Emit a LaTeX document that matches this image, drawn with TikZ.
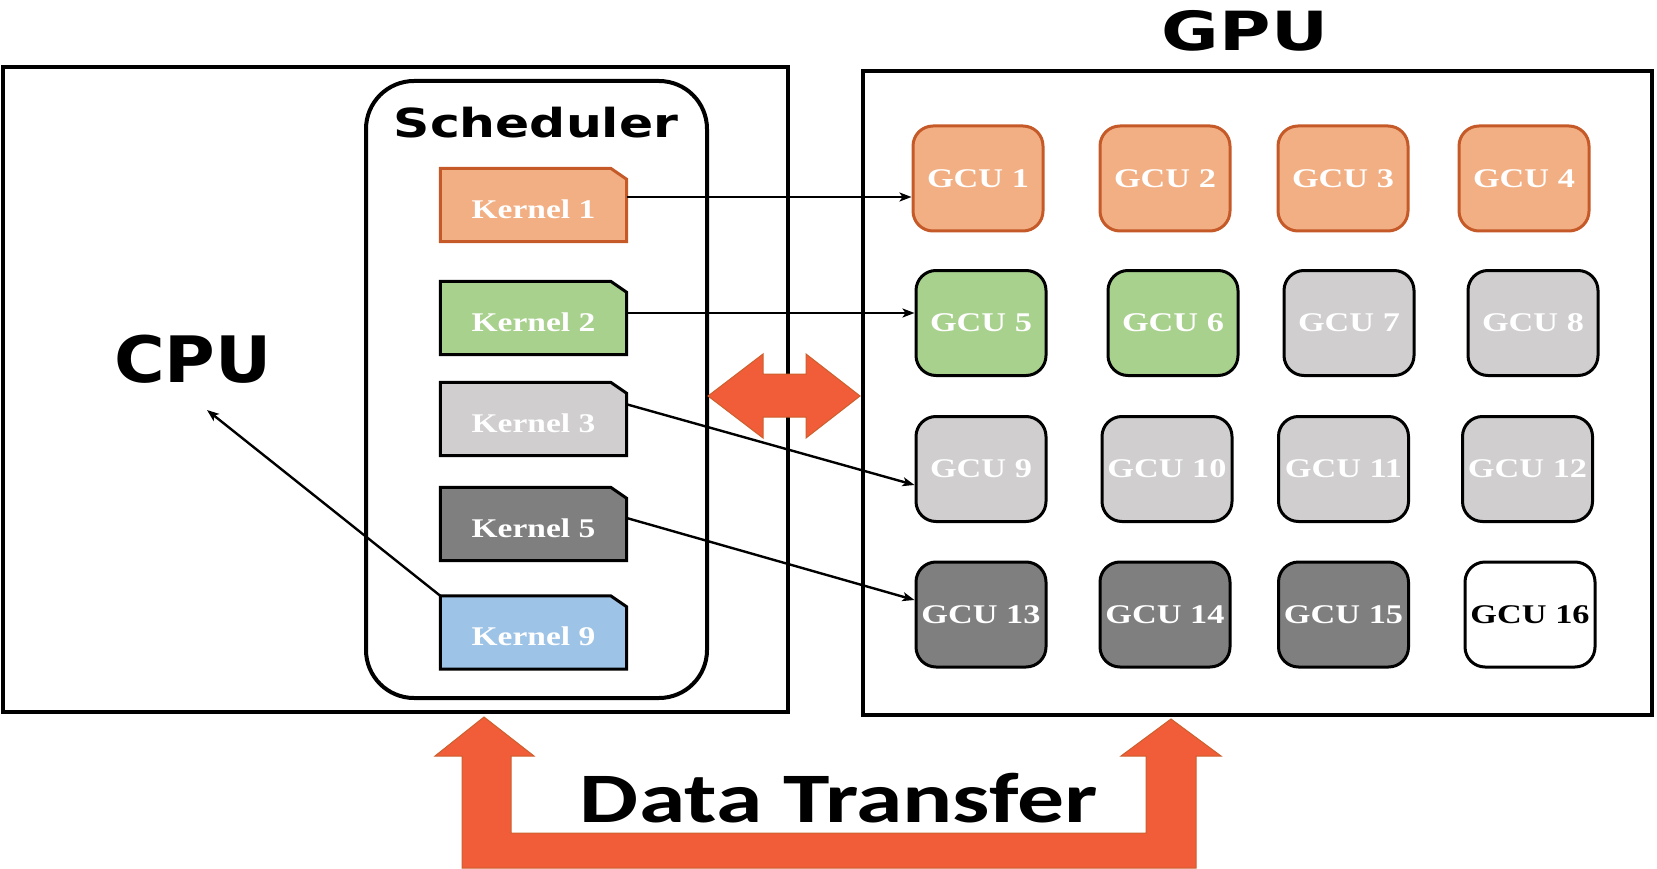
\documentclass[tikz,border=0pt]{standalone}
\usepackage{fontspec}
\usetikzlibrary{arrows.meta,calc}
\newfontfamily\dejavu{DejaVu Sans}
\newfontfamily\carlito{Carlito}
\newfontfamily\libser{Liberation Serif}
\definecolor{korange}{RGB}{242,175,132}
\definecolor{kborder}{RGB}{197,90,40}
\definecolor{kgreen}{RGB}{169,209,142}
\definecolor{klight}{RGB}{208,206,206}
\definecolor{kdark}{RGB}{127,127,127}
\definecolor{kblue}{RGB}{157,195,230}
\definecolor{bigarrow}{RGB}{240,93,56}
\definecolor{bigarrowedge}{RGB}{205,95,45}
\newcommand\kernelshape[6]{%
  \path node[kernelbox] (#1) at (#2,#3) {};
  \filldraw[fill=#4,draw=#5,line width=3pt,line join=miter]
    (#1.south west) -- (#1.north west) -- ([xshift=-16pt]#1.north east)
    -- ([yshift=-11pt]#1.north east) -- (#1.south east) -- cycle;
  \node[kerneltext] (#1t) at ([yshift=-4pt]#1.center) {\scalebox{1.24}[1]{#6}};
}
\begin{document}
\begin{tikzpicture}[x=1pt,y=-1pt,
  bigbox/.style={draw=black,line width=4pt},
  gcu/.style={draw=black,line width=3pt,rounded corners=20pt,minimum width=130pt,
    minimum height=105pt,inner sep=0pt,text=white,
    font=\libser\bfseries\fontsize{27}{30}\selectfont},
  gcuorange/.style={gcu,fill=korange,draw=kborder},
  gcugreen/.style={gcu,fill=kgreen},
  gculight/.style={gcu,fill=klight},
  gcudark/.style={gcu,fill=kdark},
  gcuwhite/.style={gcu,fill=white,text=black},
  kernelbox/.style={minimum width=186pt,minimum height=73pt,inner sep=0pt},
  kerneltext/.style={inner sep=0pt,text=white,font=\libser\bfseries\fontsize{27}{30}\selectfont},
  conn/.style={line width=2.4pt,-{Stealth[length=12pt,width=9pt,inset=3pt]}},
  titletext/.style={anchor=base,inner sep=0pt,font=\dejavu\bfseries},
  bigarr/.style={fill=bigarrow,draw=bigarrowedge,line width=1pt,line join=miter}
]
\useasboundingbox (0,0) rectangle (1657,869);

% big boxes
\draw[bigbox] (3,67) rectangle (788,712);
\draw[bigbox] (863,71) rectangle (1652,715);
\draw[bigbox,rounded corners=48pt] (366,81) rectangle (707,698);

% titles
\node[titletext,font=\dejavu\bfseries\fontsize{64}{70}\selectfont] (cpu) at (193,382) {\scalebox{1.08}[1]{CPU}};
\node[titletext,font=\dejavu\bfseries\fontsize{54}{60}\selectfont] (gpu) at (1245,51) {\scalebox{1.30}[1]{GPU}};
\node[titletext,font=\dejavu\bfseries\fontsize{40}{46}\selectfont] (sched) at (536,138) {\scalebox{1.26}[1]{Scheduler}};

% kernels
\kernelshape{k1}{533.5}{205}{korange}{kborder}{Kernel 1}
\kernelshape{k2}{533.5}{318}{kgreen}{black}{Kernel 2}
\kernelshape{k3}{533.5}{419}{klight}{black}{Kernel 3}
\kernelshape{k5}{533.5}{524}{kdark}{black}{Kernel 5}
\kernelshape{k9}{533.5}{632.5}{kblue}{black}{Kernel 9}

% GCUs
\node[gcuorange] (g1) at (978,178.5) {\scalebox{1.27}[1]{GCU 1}};
\node[gcuorange] (g2) at (1165,178.5) {\scalebox{1.27}[1]{GCU 2}};
\node[gcuorange] (g3) at (1343,178.5) {\scalebox{1.27}[1]{GCU 3}};
\node[gcuorange] (g4) at (1524,178.5) {\scalebox{1.27}[1]{GCU 4}};
\node[gcugreen] (g5) at (981,323) {\scalebox{1.27}[1]{GCU 5}};
\node[gcugreen] (g6) at (1173,323) {\scalebox{1.27}[1]{GCU 6}};
\node[gculight] (g7) at (1349,323) {\scalebox{1.27}[1]{GCU 7}};
\node[gculight] (g8) at (1533,323) {\scalebox{1.27}[1]{GCU 8}};
\node[gculight] (g9) at (981,469) {\scalebox{1.27}[1]{GCU 9}};
\node[gculight] (g10) at (1167,469) {\scalebox{1.27}[1]{GCU 10}};
\node[gculight] (g11) at (1343.5,469) {\scalebox{1.27}[1]{GCU 11}};
\node[gculight] (g12) at (1527.5,469) {\scalebox{1.27}[1]{GCU 12}};
\node[gcudark] (g13) at (981,614.5) {\scalebox{1.27}[1]{GCU 13}};
\node[gcudark] (g14) at (1165,614.5) {\scalebox{1.27}[1]{GCU 14}};
\node[gcudark] (g15) at (1343.5,614.5) {\scalebox{1.27}[1]{GCU 15}};
\node[gcuwhite] (g16) at (1530,614.5) {\scalebox{1.27}[1]{GCU 16}};

% connectors
\coordinate (cputip) at (207,410);
\draw[conn] ([yshift=8pt]k1.east) -- ([yshift=-18.5pt]g1.west);
\draw[conn] ([yshift=5pt]k2.east) -- ([yshift=10pt]g5.west);
\draw[conn] ([yshift=-22pt]k3.north east) -- ([yshift=-16pt]g9.west);
\draw[conn] ([yshift=6pt]k5.east) -- ([yshift=14.5pt]g13.west);
\draw[conn] (k9.north west) -- (cputip);

% double arrow between CPU and GPU
\filldraw[bigarr] (708,396) -- (763,354) -- (763,374) -- (806,374) -- (806,354)
  -- (860,396) -- (806,438) -- (806,417) -- (763,417) -- (763,438) -- cycle;

% data transfer arrow
\filldraw[bigarr] (462,868) -- (462,756) -- (435,756) -- (484,717) -- (534,756)
  -- (511,756) -- (511,833) -- (1146,833) -- (1146,756) -- (1121,756) -- (1171,719)
  -- (1221,756) -- (1196,756) -- (1196,868) -- cycle;
\node[anchor=base,inner sep=0pt,font=\carlito\bfseries\fontsize{71}{76}\selectfont] (dt) at (839,822) {\scalebox{1.32}[1]{Data Transfer}};
\end{tikzpicture}
\end{document}
